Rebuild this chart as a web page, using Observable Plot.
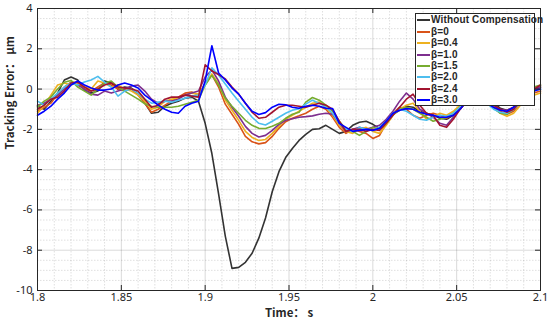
<!DOCTYPE html>
<html><head><meta charset="utf-8">
<script src="https://cdn.jsdelivr.net/npm/d3@7"></script>
<script src="https://cdn.jsdelivr.net/npm/@observablehq/plot@0.6"></script>
<style>
body{margin:0;background:#fff;}
#wrap{position:relative;width:550px;height:323px;font-family:"Noto Sans","Noto Sans CJK SC",sans-serif;}
#legend{position:absolute;left:415px;top:13px;width:120px;height:93px;background:#fff;border:1px solid #262626;box-sizing:border-box;font-family:"Liberation Sans",Arial,sans-serif;font-weight:bold;font-size:10px;letter-spacing:0.15px;color:#262626;}
.row{position:absolute;left:1px;height:10px;display:flex;align-items:center;white-space:nowrap;line-height:10px}
.sw{display:inline-block;width:13px;height:2px;margin-right:1px}
.tx{display:inline-block;height:10px;line-height:10px;overflow:visible}
</style></head><body><div id="wrap"></div>
<script>
const times = [1.800,1.804,1.808,1.812,1.816,1.820,1.824,1.828,1.832,1.836,1.840,1.844,1.848,1.852,1.856,1.860,1.864,1.868,1.872,1.876,1.880,1.884,1.888,1.892,1.896,1.900,1.904,1.908,1.912,1.916,1.920,1.924,1.928,1.932,1.936,1.940,1.944,1.948,1.952,1.956,1.960,1.964,1.968,1.972,1.976,1.980,1.984,1.988,1.992,1.996,2.000,2.004,2.008,2.012,2.016,2.020,2.024,2.028,2.032,2.036,2.040,2.044,2.048,2.052,2.056,2.060,2.064,2.068,2.072,2.076,2.080,2.084,2.088,2.092,2.096,2.100];

const withoutComp = [-0.85,-1.0,-0.6,-0.2,0.45, 0.6,0.45,-0.05,-0.2,-0.1, 0.4,0.3,0.0,0.1,0.05, -0.2,-0.7,-1.2,-1.15,-0.85, -0.7,-0.6,-0.45,-0.4,-0.6, -1.7,-3.2,-5.2,-7.3,-8.9, -8.85,-8.6,-8.15,-7.4,-6.4, -5.1,-4.1,-3.4,-2.95,-2.55, -2.25,-2.0,-1.97,-1.8,-2.0, -2.2,-2.1,-1.8,-1.65,-1.6, -1.75,-1.95,-1.6,-1.25,-1.05, -0.85,-0.9,-1.1,-1.2,-1.3, -1.45,-1.5,-1.3,-1.0,-0.6, -0.3,-0.2,-0.4,-0.7,-0.95, -1.05,-0.9,-0.6,-0.3,-0.1, 0.1];
const beta0 = [-1.1,-0.9,-0.7,-0.25,0.1, 0.35,0.3,0.0,-0.1,0.1, 0.3,0.2,0.0,-0.1,0.0, -0.3,-0.7,-1.15,-1.0,-0.8, -0.6,-0.4,-0.2,-0.15,-0.3, 0.3,0.7,0.1,-0.75,-1.25, -1.75,-2.35,-2.62,-2.72,-2.66, -2.35,-1.95,-1.62,-1.45,-1.33, -1.2,-1.0,-0.85,-1.0,-1.4, -1.9,-2.2,-2.0,-2.1,-2.2, -2.45,-2.3,-1.7,-1.2,-0.9, -1.0,-1.3,-1.45,-1.3,-1.2, -1.3,-1.45,-1.2,-0.9,-0.5, -0.3,-0.4,-0.6,-0.9,-1.1, -1.25,-1.1,-0.7,-0.4,-0.2, -0.1];
const beta04 = [-1.2,-0.8,-0.3,0.2,0.3, 0.2,0.35,0.1,0.0,0.4, 0.3,0.1,0.2,0.0,-0.1, -0.3,-0.6,-1.0,-0.9,-0.6, -0.5,-0.45,-0.3,-0.2,-0.25, 0.2,0.75,0.25,-0.55,-1.05, -1.55,-2.1,-2.4,-2.55,-2.5, -2.2,-1.85,-1.5,-1.3,-1.1, -0.9,-0.7,-0.65,-0.9,-1.3, -1.8,-2.1,-2.2,-2.0,-1.9, -2.1,-2.2,-1.8,-1.3,-1.0, -0.8,-0.7,-1.1,-1.5,-1.4, -1.2,-1.3,-1.1,-0.8,-0.4, -0.2,-0.3,-0.6,-0.9,-1.2, -1.35,-1.2,-0.8,-0.5,-0.3, -0.2];
const beta10 = [-0.8,-0.7,-0.5,-0.3,0.0, 0.3,0.2,0.0,-0.25,-0.3, -0.1,-0.2,-0.1,0.0,0.15, 0.2,-0.1,-0.5,-0.7,-0.6, -0.6,-0.5,-0.3,-0.2,-0.1, 0.6,0.95,0.4,-0.4,-0.9, -1.35,-1.85,-2.2,-2.38,-2.3, -2.05,-1.75,-1.55,-1.47,-1.4, -1.37,-1.33,-1.25,-1.2,-1.25, -1.7,-2.1,-2.0,-1.9,-2.0, -1.9,-1.8,-1.5,-1.1,-0.6, -0.2,-0.5,-1.0,-1.2,-1.4, -1.7,-1.8,-1.4,-1.0,-0.6, -0.3,-0.4,-0.6,-0.8,-1.0, -1.05,-0.9,-0.6,-0.3,0.0, 0.1];
const beta15 = [-0.9,-0.6,-0.4,0.0,0.34, 0.43,0.1,-0.1,-0.3,0.0, 0.3,0.4,0.1,-0.1,-0.3, -0.5,-0.73,-0.85,-0.9,-0.9, -0.9,-0.85,-0.75,-0.65,-0.55, 0.2,0.68,0.2,-0.45,-0.85, -1.2,-1.55,-1.8,-1.95,-1.96, -1.85,-1.7,-1.45,-1.25,-1.15, -0.65,-0.42,-0.55,-0.8,-1.1, -1.6,-2.0,-2.1,-2.3,-2.1, -1.9,-2.0,-1.7,-1.3,-1.0, -0.9,-1.0,-1.2,-1.4,-1.6, -1.5,-1.4,-1.2,-0.9,-0.5, -0.3,-0.5,-0.7,-0.95,-1.2, -1.25,-1.0,-0.6,-0.3,0.1, 0.2];
const beta20 = [-0.6,-0.8,-0.5,-0.2,0.1, 0.3,0.2,0.35,0.45,0.63, 0.35,0.1,-0.35,-0.1,0.0, -0.2,-0.5,-0.7,-0.65,-0.6, -0.65,-0.55,-0.45,-0.35,-0.3, 0.2,1.05,0.7,0.25,-0.2, -0.6,-1.0,-1.4,-1.7,-1.78, -1.6,-1.4,-1.2,-1.05,-0.97, -0.75,-0.55,-0.7,-0.9,-1.2, -1.7,-2.0,-2.1,-1.9,-2.0, -2.05,-1.9,-1.6,-1.2,-1.0, -1.1,-1.3,-1.5,-1.55,-1.4, -1.3,-1.35,-1.2,-0.9,-0.6, -0.4,-0.5,-0.7,-1.0,-1.15, -1.2,-1.0,-0.7,-0.4,-0.1, 0.0];
const beta24 = [-1.0,-0.8,-0.5,-0.4,-0.1, 0.3,0.35,0.1,-0.1,0.0, 0.2,0.3,0.1,0.05,0.0, -0.1,-0.5,-0.9,-0.8,-0.5, -0.4,-0.4,-0.3,-0.35,-0.4, 1.2,0.9,0.72,0.5,0.1, -0.25,-0.7,-1.15,-1.45,-1.4, -1.15,-0.9,-0.8,-0.8,-0.85, -0.9,-0.8,-0.7,-0.8,-1.0, -1.6,-2.1,-2.0,-2.0,-2.1, -2.0,-2.05,-1.7,-1.3,-0.9, -0.5,-0.25,-0.8,-1.2,-1.3, -1.8,-1.9,-1.5,-1.0,-0.6, -0.3,-0.3,-0.5,-0.8,-1.0, -1.15,-1.0,-0.6,-0.3,0.0, 0.2];
const beta30 = [-1.3,-1.1,-0.85,-0.5,-0.2, 0.2,0.4,0.2,0.05,-0.05, -0.05,0.0,0.2,0.3,0.2, 0.05,-0.3,-0.55,-0.8,-1.0, -1.15,-1.2,-0.85,-0.7,-0.6, 0.4,2.15,0.8,0.45,0.05, -0.25,-0.7,-1.1,-1.26,-1.17, -0.9,-0.75,-0.78,-0.9,-0.95, -0.85,-0.8,-0.85,-0.95,-0.97, -1.7,-1.9,-2.1,-2.05,-2.0, -2.05,-1.95,-1.6,-1.2,-1.05, -0.97,-1.0,-1.15,-1.25,-1.3, -1.4,-1.4,-1.3,-1.0,-0.6, -0.4,-0.5,-0.7,-0.9,-1.05, -1.1,-0.9,-0.6,-0.3,-0.1, 0.0];

const seriesNames = ["Without Compensation","β=0","β=0.4","β=1.0","β=1.5","β=2.0","β=2.4","β=3.0"];
const seriesValues = [withoutComp,beta0,beta04,beta10,beta15,beta20,beta24,beta30];
const seriesColors = ["#333333","#D95319","#EDB120","#7E2F8E","#77AC30","#4DBEEE","#A2142F","#0000FF"];

const xTicks = [1.8,1.85,1.9,1.95,2,2.05,2.1];
const yTicks = [-10,-8,-6,-4,-2,0,2,4];
const xMinor = [1.81,1.82,1.83,1.84,1.86,1.87,1.88,1.89,1.91,1.92,1.93,1.94,1.96,1.97,1.98,1.99,2.01,2.02,2.03,2.04,2.06,2.07,2.08,2.09];
const yMinor = [-9.5,-9,-8.5,-7.5,-7,-6.5,-5.5,-5,-4.5,-3.5,-3,-2.5,-1.5,-1,-0.5,0.5,1,1.5,2.5,3,3.5];

const rows = [];
seriesNames.forEach((name,k) => seriesValues[k].forEach((v,i) => rows.push({t: times[i], v, name})));

const W = 550, H = 323, mL = 37, mR = 10, mT = 8, mB = 33;
const xDom = [1.8, 2.1], yDom = [-10, 4];
const tickPx = 5;
const dxTick = tickPx * (xDom[1]-xDom[0]) / (W - mL - mR);
const dyTick = tickPx * (yDom[1]-yDom[0]) / (H - mT - mB);
const tickFont = '"Noto Sans",sans-serif';
const titleFont = '"Noto Sans CJK SC","Noto Sans",sans-serif';

const chart = Plot.plot({
  width: W, height: H,
  marginLeft: mL, marginRight: mR, marginTop: mT, marginBottom: mB,
  x: {domain: xDom},
  y: {domain: yDom},
  color: {domain: seriesNames, range: seriesColors},
  style: {fontFamily: tickFont, fontSize: "11px", color: "#262626", background: "#fff", overflow: "visible"},
  marks: [
    Plot.ruleX(xMinor, {stroke: "#000", strokeOpacity: 0.13, strokeDasharray: "1.5,1.5"}),
    Plot.ruleY(yMinor, {stroke: "#000", strokeOpacity: 0.13, strokeDasharray: "1.5,1.5"}),
    Plot.ruleX(xTicks, {stroke: "#000", strokeOpacity: 0.15}),
    Plot.ruleY(yTicks, {stroke: "#000", strokeOpacity: 0.15}),
    Plot.line(rows, {x: "t", y: "v", z: "name", stroke: "name", strokeWidth: 1.6}),
    Plot.frame({stroke: "#262626", strokeWidth: 1}),
    Plot.ruleX(xTicks, {y1: yDom[0], y2: yDom[0] + dyTick, stroke: "#262626"}),
    Plot.ruleX(xTicks, {y1: yDom[1], y2: yDom[1] - dyTick, stroke: "#262626"}),
    Plot.ruleY(yTicks, {x1: xDom[0], x2: xDom[0] + dxTick, stroke: "#262626"}),
    Plot.ruleY(yTicks, {x1: xDom[1], x2: xDom[1] - dxTick, stroke: "#262626"}),
    Plot.axisX({ticks: xTicks, tickSize: 0, tickPadding: 3, tickFormat: d => String(d), label: null, fill: "#262626"}),
    Plot.axisY({ticks: yTicks, tickSize: 0, tickPadding: 5, tickFormat: d => String(d), label: null, fill: "#262626"}),
    Plot.text(["Time： s"], {text: d => d, frameAnchor: "bottom", dy: 26, fontWeight: "bold", fontSize: 11.5, fontFamily: titleFont, fill: "#262626"}),
    Plot.text(["Tracking Error： μm"], {text: d => d, frameAnchor: "left", dx: -27, rotate: -90, fontWeight: "bold", fontSize: 11.5, fontFamily: titleFont, fill: "#262626"})
  ]
});

const wrap = document.getElementById("wrap");
wrap.appendChild(chart);

const legend = document.createElement("div");
legend.id = "legend";
seriesNames.forEach((name, k) => {
  const row = document.createElement("div");
  row.className = "row";
  row.style.top = (1.3 + 11.4 * k) + "px";
  const sw = document.createElement("span");
  sw.className = "sw";
  sw.style.background = seriesColors[k];
  const tx = document.createElement("span");
  tx.className = "tx";
  tx.textContent = name;
  row.appendChild(sw);
  row.appendChild(tx);
  legend.appendChild(row);
});
wrap.appendChild(legend);
</script>
</body></html>
